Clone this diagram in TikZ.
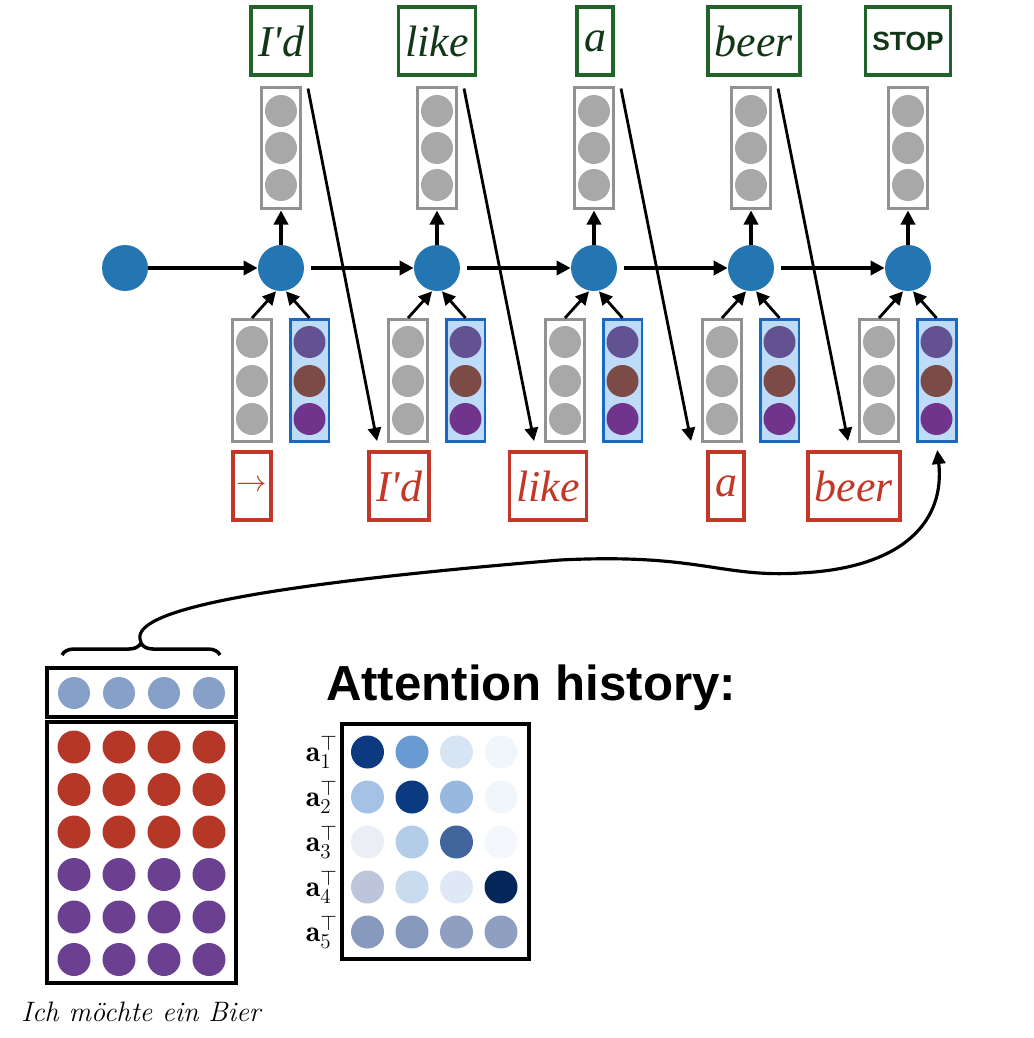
\documentclass[tikz,border=0pt]{standalone}
\usepackage{fontspec}
\usetikzlibrary{arrows.meta,decorations.pathreplacing}

\newfontfamily\wordfont{Liberation Serif}
\newfontfamily\headfont{Liberation Sans}

\definecolor{rnnblue}{RGB}{36,118,178}
\definecolor{vecgray}{RGB}{168,168,168}
\definecolor{boxgray}{RGB}{145,145,145}
\definecolor{ctxblue}{RGB}{25,105,190}
\definecolor{ctxfill}{RGB}{190,220,248}
\definecolor{ctxtop}{RGB}{98,82,145}
\definecolor{ctxmid}{RGB}{125,75,70}
\definecolor{ctxbot}{RGB}{112,52,140}
\definecolor{outgreen}{RGB}{32,100,42}
\definecolor{inred}{RGB}{195,55,40}
\definecolor{srcred}{RGB}{180,55,40}
\definecolor{srcpurple}{RGB}{108,64,145}
\definecolor{srcrow}{RGB}{135,160,200}
\definecolor{att}{RGB}{12,58,128}
\definecolor{attsky}{RGB}{55,120,195}
\definecolor{attgray}{RGB}{115,135,178}
\definecolor{attdark}{RGB}{5,38,88}

\tikzset{
  state/.style={circle, fill=rnnblue, minimum size=0.92cm, inner sep=0pt},
  unit/.style={circle, minimum size=0.64cm, inner sep=0pt},
  dot/.style={circle, minimum size=0.66cm, inner sep=0pt},
  vecbox/.style={draw=boxgray, line width=1.7pt, minimum width=0.78cm, minimum height=2.44cm, inner sep=0pt},
  ctxbox/.style={vecbox, draw=ctxblue, fill=ctxfill},
  outword/.style={draw=outgreen, line width=2pt, text=outgreen!55!black, minimum height=1.36cm,
    inner xsep=4pt, font=\wordfont\itshape\fontsize{25}{25}\selectfont},
  inword/.style={outword, draw=inred, text=inred},
  matbox/.style={draw=black, line width=2.6pt, inner sep=0pt},
  link/.style={line width=2.2pt, -{Triangle[length=8pt,width=8pt]}},
  feed/.style={line width=1.6pt, -{Triangle[length=7.5pt,width=7.5pt]}}
}

\begin{document}
\begin{tikzpicture}[x=0.02cm, y=-0.02cm]
  \useasboundingbox (0,0) rectangle (1034,1038);

  % decoder states
  \node[state] at (125,268) (h0) {};
  \node[state] at (281,268) (h1) {};
  \node[state] at (437,268) (h2) {};
  \node[state] at (594,268) (h3) {};
  \node[state] at (751,268) (h4) {};
  \node[state] at (908,268) (h5) {};

  % output vectors
  \foreach \i/\x in {1/281,2/437,3/594,4/751,5/908} {
    \node[vecbox] at (\x,148) (o\i) {};
    \foreach \y in {111,148,185}
      \node[unit, fill=vecgray] at (\x,\y) {};
  }

  % input vectors and context vectors
  \foreach \i/\x in {1/281,2/437,3/594,4/751,5/908} {
    \node[vecbox] at (\x-29,380.5) (g\i) {};
    \node[ctxbox] at (\x+28.5,380.5) (c\i) {};
    \foreach \y in {342,381,419}
      \node[unit, fill=vecgray] at (\x-29,\y) {};
    \node[unit, fill=ctxtop] at (\x+28.5,342) {};
    \node[unit, fill=ctxmid] at (\x+28.5,381) {};
    \node[unit, fill=ctxbot] at (\x+28.5,419) {};
  }

  % output words
  \node[outword] at (281,41) (y1) {I'd};
  \node[outword] at (437,41) (y2) {like};
  \node[outword] at (595,41) (y3) {a};
  \node[outword] at (754,41) (y4) {beer};
  \node[outword] at (908,41) (y5) {\headfont\upshape\bfseries\fontsize{15}{15}\selectfont STOP};

  % input words
  \node[inword, inner xsep=0pt, minimum width=0.76cm] at (252,486) (w1) {\fontsize{16}{16}\selectfont\raisebox{-2pt}{$\rightarrow$}};
  \node[inword] at (399,486) (w2) {I'd};
  \node[inword] at (548,486) (w3) {like};
  \node[inword] at (726,486) (w4) {a};
  \node[inword] at (854,486) (w5) {beer};

  \draw[link] (h0) -- (h1);
  \draw[link, shorten <=4pt] (h1) -- (h2);
  \draw[link, shorten <=4pt] (h2) -- (h3);
  \draw[link, shorten <=4pt] (h3) -- (h4);
  \draw[link, shorten <=4pt] (h4) -- (h5);
  \foreach \i in {1,...,5} {
    \draw[link] (h\i) -- (o\i);
    \draw[feed] (g\i.north) -- ([xshift=-0.1cm]h\i.south);
    \draw[feed] (c\i.north) -- ([xshift=0.1cm]h\i.south);
  }
  \foreach \i/\j in {1/2,2/3,3/4,4/5}
    \draw[feed] ([xshift=0.12cm,yshift=-0.06cm]o\i.north east) -- ([xshift=-0.2cm,yshift=0.04cm]g\j.south west);

  % source annotations
  \node[matbox, minimum width=3.78cm, minimum height=0.98cm] at (141.5,692.5) (src) {};
  \node[matbox, minimum width=3.78cm, minimum height=5.22cm] at (141.5,852.5) (enc) {};
  \foreach \x in {74,119,164,209} {
    \node[unit, fill=srcrow] at (\x,693) {};
    \foreach \y in {747,789.5,832}
      \node[dot, fill=srcred] at (\x,\y) {};
    \foreach \y in {874.5,917,959.5}
      \node[dot, fill=srcpurple] at (\x,\y) {};
  }
  \node[font=\itshape\fontsize{16}{16}\selectfont] at (141,1012) (caption) {Ich möchte ein Bier};

  \coordinate (braceL) at (62,655);
  \coordinate (braceR) at (220,655);
  \coordinate (bracetip) at (141,642);
  \draw[line width=2pt, decorate, decoration={brace, amplitude=0.24cm}] (braceL) -- (braceR);
  \draw[line width=1.8pt, -{Triangle[length=8pt,width=7.5pt]}, shorten >=4pt]
    (bracetip) .. controls (128,615) and (220,588) .. (560,560)
    .. controls (700,553) and (720,578) .. (800,573)
    .. controls (905,568) and (945,520) .. (c5.south);

  % attention history
  \node[font=\headfont\bfseries\fontsize{28}{28}\selectfont] at (531,688) (title) {Attention history:};
  \node[matbox, minimum width=3.74cm, minimum height=4.7cm] at (435.5,841.5) (hist) {};
  \foreach \r/\y in {1/752,2/797,3/842,4/887,5/932}
    \node[anchor=east, inner sep=0pt, font=\fontsize{17}{17}\selectfont] at (338,\y) (a\r) {$\mathbf{a}_{\r}^{\top}$};
  \foreach \y/\c/\x in {752/att/367.5, 752/attsky!75/412, 752/attsky!20/456.5, 752/attsky!7/501,
                        797/attsky!45/367.5, 797/att/412, 797/attsky!52/456.5, 797/attsky!7/501,
                        842/attgray!14/367.5, 842/attsky!38/412, 842/att!78/456.5, 842/attsky!6/501,
                        887/attgray!48/367.5, 887/attsky!27/412, 887/attsky!16/456.5, 887/attdark/501,
                        932/attgray!85/367.5, 932/attgray!85/412, 932/attgray!80/456.5, 932/attgray!80/501}
    \node[dot, fill=\c] at (\x,\y) {};
\end{tikzpicture}
\end{document}
